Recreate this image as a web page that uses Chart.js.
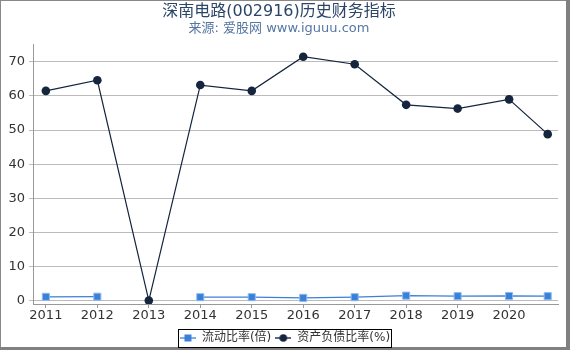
<!DOCTYPE html>
<html>
<head>
<meta charset="utf-8">
<script src="https://cdn.jsdelivr.net/npm/chart.js@4/dist/chart.umd.min.js"></script>
<style>
  body { margin: 0; background: #fff; }
  #wrap { width: 570px; height: 350px; }
</style>
</head>
<body>
<div id="wrap"><canvas id="myChart" width="570" height="350"></canvas></div>
<script>
// 数据
var years = [2011, 2012, 2013, 2014, 2015, 2016, 2017, 2018, 2019, 2020, 2020.75];
var tickYears = [2011, 2012, 2013, 2014, 2015, 2016, 2017, 2018, 2019, 2020];
var liudongBilv = [1.1, 1.15, null, 1.0, 1.0, 0.8, 1.0, 1.45, 1.3, 1.35, 1.3];
var fuzhaiBilv = [61.5, 64.6, 0, 63.2, 61.5, 71.5, 69.3, 57.4, 56.3, 59.0, 48.8];
var yTicks = [0, 10, 20, 30, 40, 50, 60, 70];

var fontFam = "'DejaVu Sans', 'Noto Sans CJK SC', sans-serif";
var blue = '#3a80d8';
var navy = '#14253d';

function toXY(ys) {
  return years.map(function (x, i) { return { x: x, y: ys[i] }; });
}

// 图例里的小图标: 线 + 标记
function legendIcon(color, lineColor, shape) {
  var c = document.createElement('canvas');
  c.width = 16; c.height = 8;
  var g = c.getContext('2d');
  g.strokeStyle = lineColor;
  g.lineWidth = 2;
  g.beginPath(); g.moveTo(0, 4); g.lineTo(16, 4); g.stroke();
  g.fillStyle = color;
  if (shape === 'rect') {
    g.fillRect(4.5, 0.5, 7, 7);
  } else {
    g.beginPath(); g.arc(8, 4, 3.8, 0, Math.PI * 2); g.fill();
  }
  return c;
}
var iconBlue = legendIcon(blue, '#7fb0ea', 'rect');
var iconNavy = legendIcon(navy, '#5a6a80', 'circle');

var framePlugin = {
  id: 'frame',
  afterLayout: function (chart) {
    // 图例稍微往右下挪一点
    var lg = chart.legend;
    lg.left += 6; lg.right += 6;
    lg.top += 4; lg.bottom += 4;
  },
  afterDraw: function (chart) {
    var ctx = chart.ctx;
    ctx.save();
    ctx.strokeStyle = '#888';
    ctx.lineWidth = 1;
    ctx.strokeRect(0.5, 0.5, 567, 348);
    ctx.fillStyle = '#808080';
    ctx.fillRect(566, 0, 4, 350);
    ctx.fillRect(0, 347, 570, 3);
    // 图例外框
    var boxes = chart.legend.legendHitBoxes;
    if (boxes && boxes.length) {
      var l = boxes[0].left - 2;
      var r = boxes[boxes.length - 1].left + boxes[boxes.length - 1].width + 1;
      var t = boxes[0].top - 3;
      var b = boxes[0].top + boxes[0].height + 3;
      ctx.strokeStyle = '#000';
      ctx.lineWidth = 1;
      ctx.strokeRect(Math.round(l) + 0.5, Math.round(t) + 0.5, Math.round(r - l), Math.round(b - t));
    }
    ctx.restore();
  }
};

var ctx = document.getElementById('myChart').getContext('2d');
var myChart = new Chart(ctx, {
  type: 'line',
  data: {
    datasets: [{
      label: '流动比率(倍)',
      data: toXY(liudongBilv),
      borderColor: blue,
      backgroundColor: blue,
      borderWidth: 1.3,
      pointStyle: 'rect',
      pointRadius: 5,
      pointBorderColor: '#8dbaee',
      pointBorderWidth: 1,
      spanGaps: false
    }, {
      label: '资产负债比率(%)',
      data: toXY(fuzhaiBilv),
      borderColor: navy,
      backgroundColor: navy,
      borderWidth: 1.2,
      pointStyle: 'circle',
      pointRadius: 4.3,
      pointBorderWidth: 0
    }]
  },
  options: {
    responsive: false,
    animation: false,
    layout: { padding: { left: 0, right: 12, top: 0, bottom: 0 } },
    scales: {
      x: {
        type: 'linear',
        min: 2010.75,
        max: 2020.95,
        afterBuildTicks: function (scale) {
          scale.ticks = tickYears.map(function (v) { return { value: v }; });
        },
        afterFit: function (scale) { scale.height = 20; },
        ticks: {
          color: '#333',
          font: { family: fontFam, size: 13 },
          padding: 0,
          maxRotation: 0,
          callback: function (v) { return String(v); }
        },
        grid: { display: true, drawOnChartArea: false, tickLength: 4, color: '#999' },
        border: { display: true, color: '#999' }
      },
      y: {
        min: -1,
        max: 75,
        afterBuildTicks: function (scale) {
          scale.ticks = yTicks.map(function (v) { return { value: v }; });
        },
        afterFit: function (scale) { scale.width = 33; },
        ticks: {
          color: '#333',
          font: { family: fontFam, size: 13 },
          padding: 4
        },
        grid: { color: '#bbb', tickLength: 4, lineWidth: 1 },
        border: { display: true, color: '#999' }
      }
    },
    plugins: {
      title: {
        display: true,
        text: '深南电路(002916)历史财务指标',
        color: '#2b4566',
        font: { family: fontFam, size: 16, weight: 'normal' },
        padding: { top: 2, bottom: 0 }
      },
      subtitle: {
        display: true,
        text: '来源: 爱股网 www.iguuu.com',
        color: '#5577a3',
        font: { family: fontFam, size: 13 },
        padding: { top: 0, bottom: 8 }
      },
      legend: {
        position: 'bottom',
        labels: {
          usePointStyle: true,
          pointStyleWidth: 16,
          boxHeight: 8,
          padding: 4,
          color: '#333',
          font: { family: fontFam, size: 12 },
          generateLabels: function (chart) {
            return [
              { text: '流动比率(倍)', pointStyle: iconBlue, fillStyle: blue, strokeStyle: blue, lineWidth: 0, datasetIndex: 0, fontColor: '#333' },
              { text: '资产负债比率(%)', pointStyle: iconNavy, fillStyle: navy, strokeStyle: navy, lineWidth: 0, datasetIndex: 1, fontColor: '#333' }
            ];
          }
        }
      },
      tooltip: { enabled: false }
    }
  },
  plugins: [framePlugin]
});
</script>
</body>
</html>
